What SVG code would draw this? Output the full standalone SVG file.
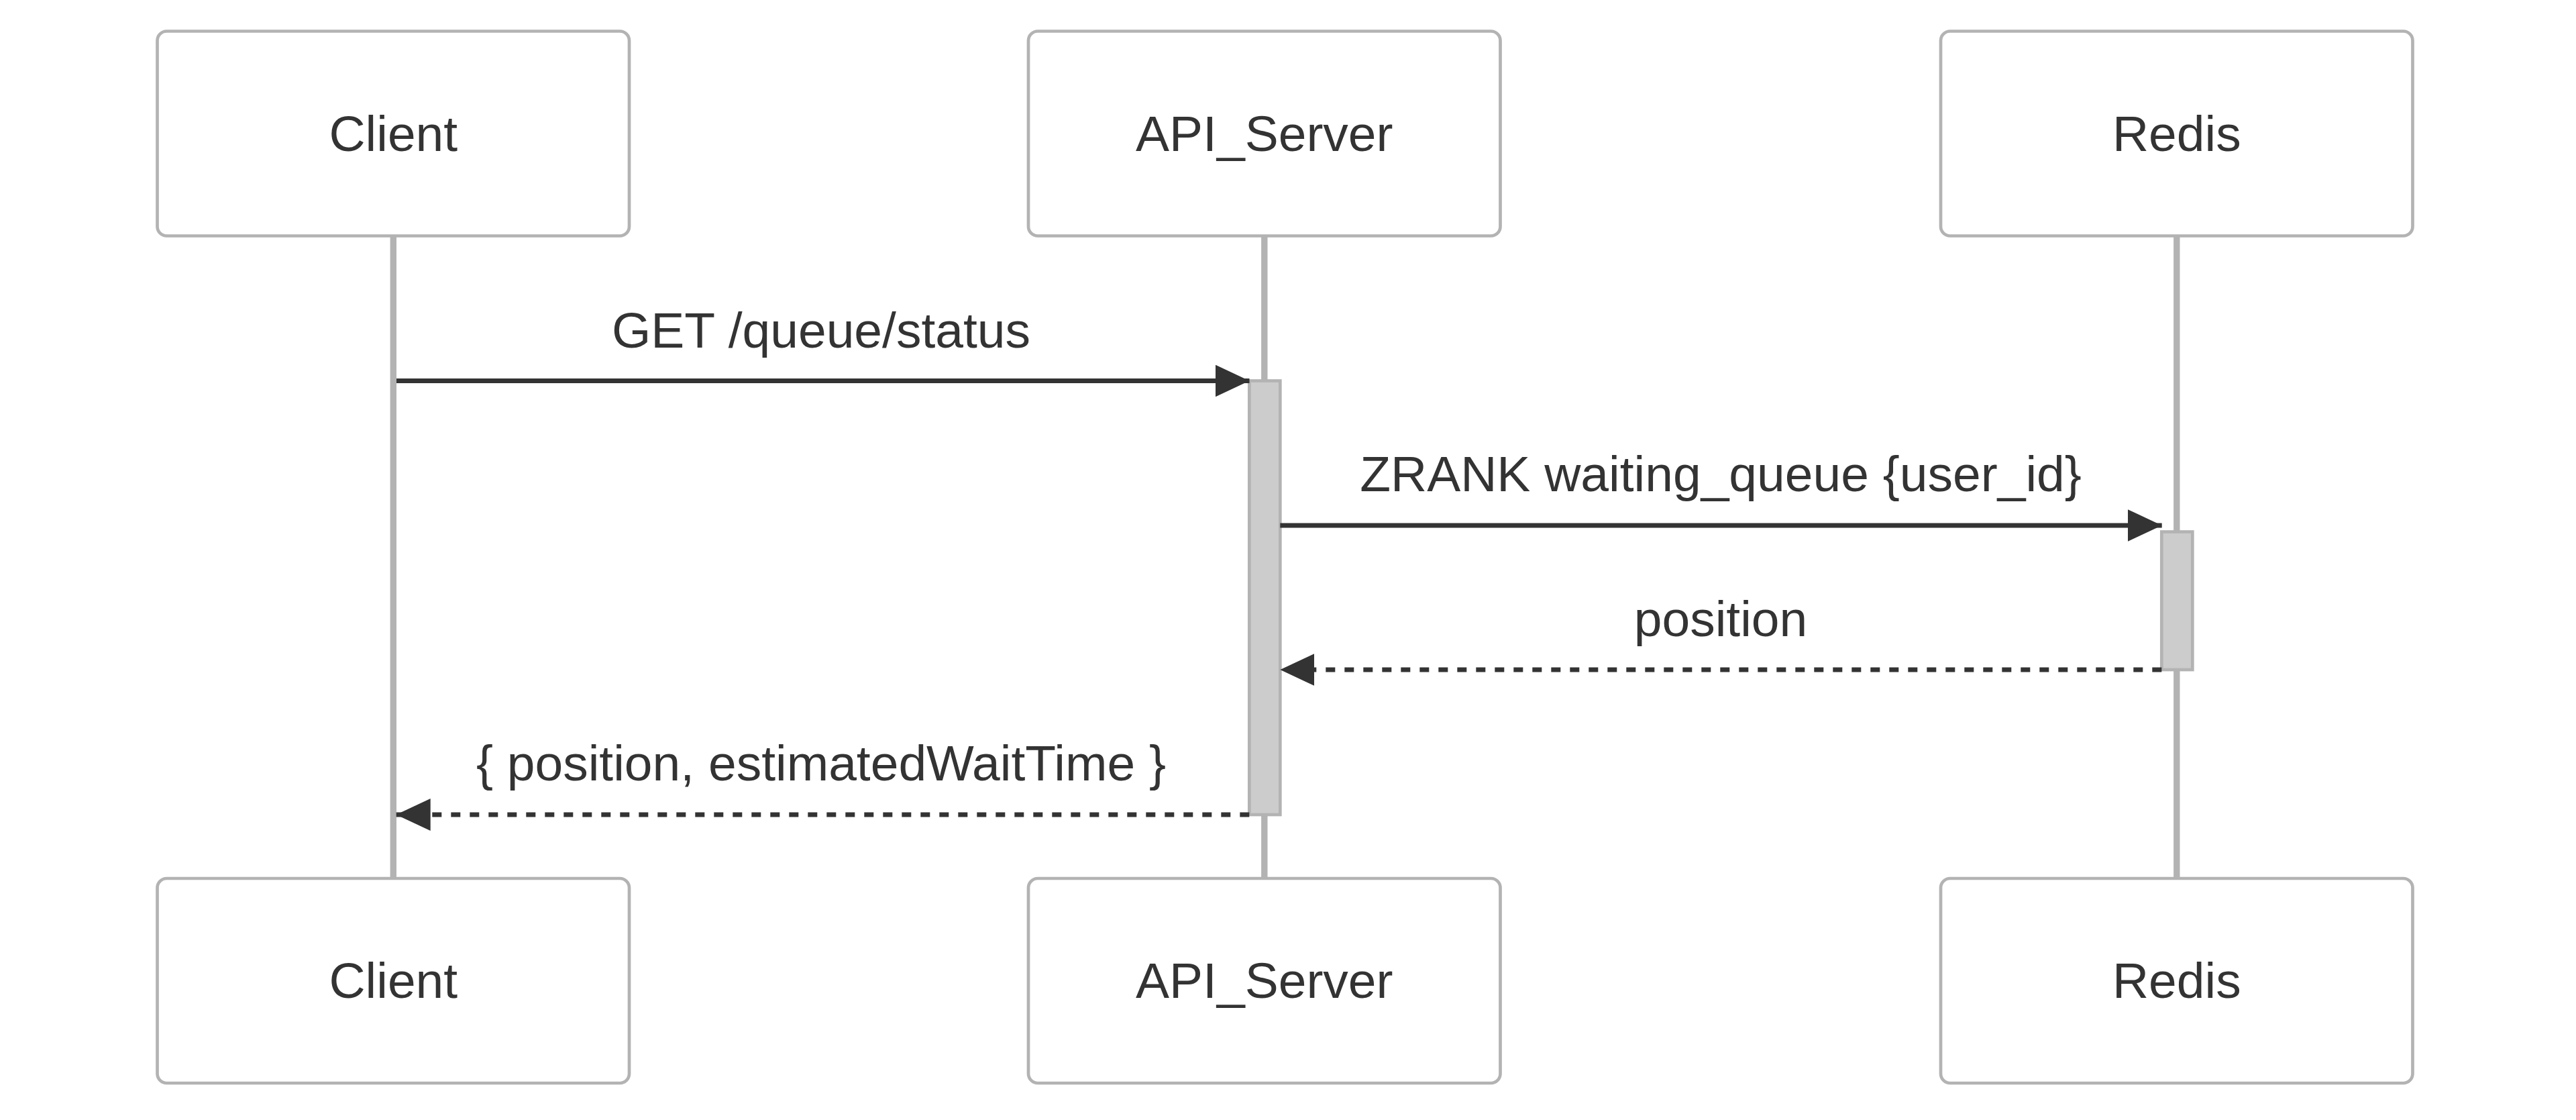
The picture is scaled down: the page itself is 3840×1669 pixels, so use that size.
<svg xmlns="http://www.w3.org/2000/svg" width="3840" height="1669" viewBox="0 0 3840 1669">
<defs>
<style>
.actor{fill:#ffffff;stroke:#b3b3b3;stroke-width:4.7}
.life{stroke:#b3b3b3;stroke-width:9.4;fill:none}
.act{fill:#cccccc;stroke:#b3b3b3;stroke-width:4.7}
.atext{font-family:"Liberation Sans",Arial,sans-serif;font-size:75px;fill:#333333;text-anchor:middle}
.mtext{font-family:"Liberation Sans",Arial,sans-serif;font-size:75px;fill:#333333;text-anchor:middle}
.msg{stroke:#333333;stroke-width:7;fill:none}
.dotted{stroke-dasharray:14,14}
</style>
<marker id="arrow" markerUnits="userSpaceOnUse" viewBox="0 0 10 10" refX="10" refY="5" markerWidth="51" markerHeight="48" orient="auto" preserveAspectRatio="none">
<path d="M0,0 L10,5 L0,10 z" fill="#333333"/>
</marker>
</defs>
<rect width="3840" height="1669" fill="#ffffff"/>
<g id="lifelines">
<line class="life" x1="586.3" y1="351" x2="586.3" y2="1309"/>
<line class="life" x1="1884.8" y1="351" x2="1884.8" y2="1309"/>
<line class="life" x1="3244.8" y1="351" x2="3244.8" y2="1309"/>
</g>
<g id="actor-client-top">
<rect class="actor" x="234.5" y="46.5" width="703.5" height="305" rx="14" ry="14"/>
<text class="atext" x="586.3" y="225">Client</text>
</g>
<g id="actor-api-top">
<rect class="actor" x="1533" y="46.5" width="703.5" height="305" rx="14" ry="14"/>
<text class="atext" x="1884.8" y="225">API_Server</text>
</g>
<g id="actor-redis-top">
<rect class="actor" x="2893" y="46.5" width="703.5" height="305" rx="14" ry="14"/>
<text class="atext" x="3244.8" y="225">Redis</text>
</g>
<g id="actor-client-bottom">
<rect class="actor" x="234.5" y="1309" width="703.5" height="305" rx="14" ry="14"/>
<text class="atext" x="586.3" y="1487">Client</text>
</g>
<g id="actor-api-bottom">
<rect class="actor" x="1533" y="1309" width="703.5" height="305" rx="14" ry="14"/>
<text class="atext" x="1884.8" y="1487">API_Server</text>
</g>
<g id="actor-redis-bottom">
<rect class="actor" x="2893" y="1309" width="703.5" height="305" rx="14" ry="14"/>
<text class="atext" x="3244.8" y="1487">Redis</text>
</g>
<g id="activation-api">
<rect class="act" x="1862.3" y="567.5" width="46" height="646.5"/>
</g>
<g id="activation-redis">
<rect class="act" x="3222.3" y="792.5" width="46" height="205.5"/>
</g>
<g id="connectors">
<line class="msg" x1="591" y1="567.5" x2="1862.5" y2="567.5" marker-end="url(#arrow)"/>
<text class="mtext" x="1224" y="518">GET /queue/status</text>
<line class="msg" x1="1908.3" y1="783" x2="3222.7" y2="783" marker-end="url(#arrow)"/>
<text class="mtext" x="2565" y="732">ZRANK waiting_queue {user_id}</text>
<line class="msg dotted" x1="3222.3" y1="998" x2="1908.3" y2="998" marker-end="url(#arrow)"/>
<text class="mtext" x="2565" y="948">position</text>
<line class="msg dotted" x1="1862.3" y1="1214" x2="590.7" y2="1214" marker-end="url(#arrow)"/>
<text class="mtext" x="1224" y="1163">{ position, estimatedWaitTime }</text>
</g>
</svg>
